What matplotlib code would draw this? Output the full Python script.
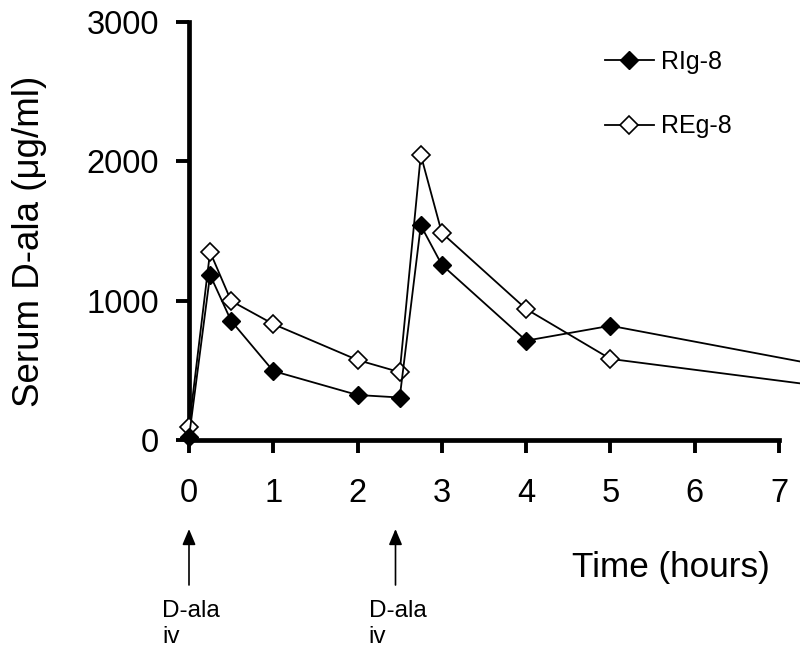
import matplotlib
matplotlib.use("Agg")
import matplotlib.pyplot as plt
import matplotlib.transforms as mtransforms

plt.rcParams['font.family'] = ['Liberation Sans', 'DejaVu Sans']

# Data
time_h = [0, 0.25, 0.5, 1, 2, 2.5, 2.75, 3, 4, 5, 8]
rig8 = [20, 1185, 855, 495, 323, 305, 1540, 1257, 713, 820, 478]
reg8 = [92, 1350, 998, 832, 574, 487, 2046, 1486, 940, 582, 348]
series_labels = ["RIg-8", "REg-8"]
x_ticks = [0, 1, 2, 3, 4, 5, 6, 7]
y_ticks = [0, 1000, 2000, 3000]
dose_times = [0, 2.45]
dose_label = ["D-ala", "iv"]

W, H = 800, 652
fig = plt.figure(figsize=(W / 100, H / 100), dpi=100)
ax = fig.add_axes([189 / W, 1 - 440 / H, 590 / W, 418 / H])

ax.plot(time_h, rig8, color='black', lw=1.3, marker='D', ms=9.5,
        mfc='black', mec='black', mew=1.0, clip_on=False, zorder=4,
        label=series_labels[0])
ax.plot(time_h, reg8, color='black', lw=1.3, marker='D', ms=9.5,
        mfc='white', mec='black', mew=1.2, clip_on=False, zorder=3,
        label=series_labels[1])

ax.set_xlim(0, 7)
ax.set_ylim(0, 3000)
ax.set_xticks(x_ticks)
ax.set_yticks(y_ticks)
for s in ['top', 'right']:
    ax.spines[s].set_visible(False)
for s in ['left', 'bottom']:
    ax.spines[s].set_linewidth(3.4)
ax.tick_params(axis='both', direction='out', length=9.5, width=2.8,
               labelsize=23.5)
ax.tick_params(axis='x', pad=18)
ax.tick_params(axis='y', pad=12)

ax.set_ylabel("Serum D-ala (\u03bcg/ml)", fontsize=26.5)
ax.yaxis.set_label_coords(-(189 - 47) / 590, (440 - 241.5) / 418)

fig.text(572 / W, 1 - 577 / H, "Time (hours)", fontsize=25.3,
         ha='left', va='baseline')

leg = ax.legend(loc='upper left', bbox_to_anchor=(605 / W, 1 - 50 / H),
                bbox_transform=fig.transFigure, frameon=False, fontsize=18,
                handlelength=1.95, handletextpad=0.3, labelspacing=1.62,
                borderpad=0, borderaxespad=0, markerscale=0.95)

trans = mtransforms.blended_transform_factory(ax.transData, fig.transFigure)
for t in dose_times:
    ax.annotate('', xy=(t, 1 - 529 / H), xytext=(t, 1 - 585 / H),
                xycoords=trans, textcoords=trans, annotation_clip=False,
                arrowprops=dict(arrowstyle='-|>,head_length=0.95,head_width=0.4',
                                color='black', lw=1.2, shrinkA=0, shrinkB=0))
    ax.text(t - 0.32, 1 - 617 / H, dose_label[0], transform=trans,
            fontsize=17.5, ha='left', va='baseline')
    ax.text(t - 0.32, 1 - 643 / H, dose_label[1], transform=trans,
            fontsize=17.5, ha='left', va='baseline')

fig.savefig("out.png", dpi=100)
